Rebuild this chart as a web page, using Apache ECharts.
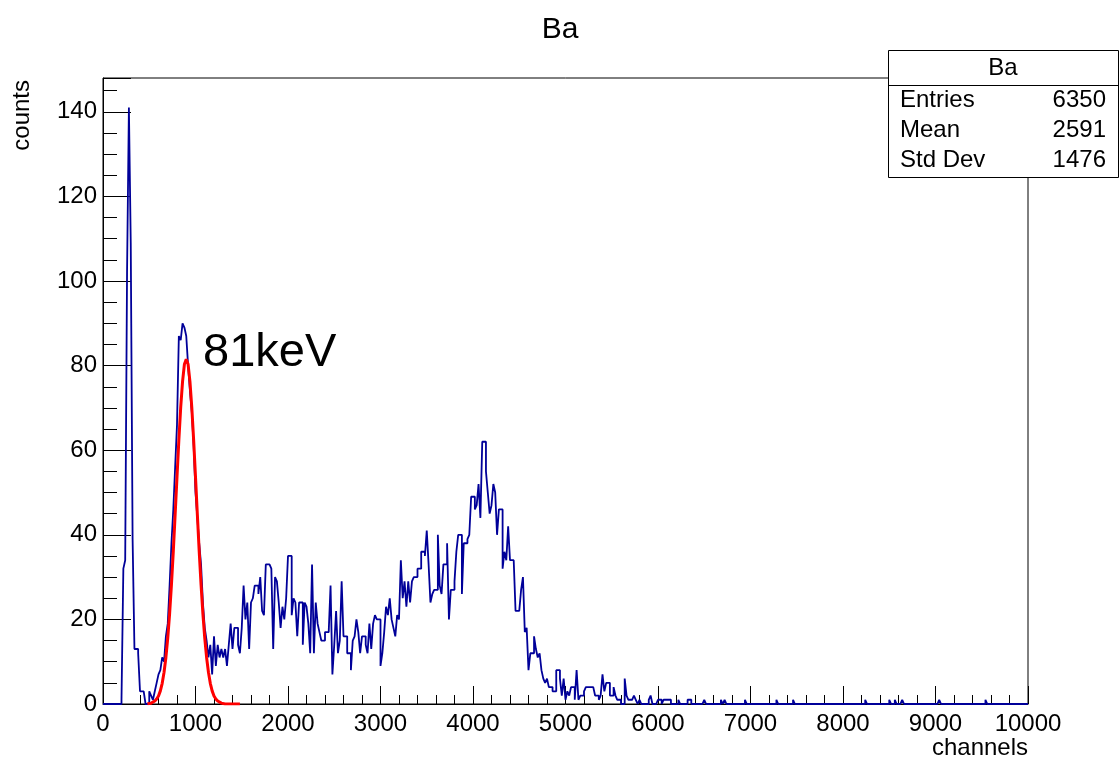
<!DOCTYPE html>
<html>
<head>
<meta charset="utf-8">
<script src="https://cdn.jsdelivr.net/npm/echarts@6/dist/echarts.min.js"></script>
<style>
  html, body { margin: 0; padding: 0; background: #fff; }
  #chart { width: 1120px; height: 762px; }
</style>
</head>
<body>
<div id="chart"></div>
<script>
  // histogram "Ba": 500 bins over channels 0..10000
  const chRange = [0, 10000]
  const counts = [
    0, 0, 0, 0, 0, 0, 0, 0, 0, 0,
    1, 32, 34, 102, 141, 109, 39, 13, 13, 12,
    3, 3, 3, 0, 0, 3, 2, 1, 3, 5,
    7, 8, 11, 10, 16, 19, 28, 38, 46, 56,
    66, 87, 86, 90, 89, 87, 80, 74, 69, 61,
    50, 44, 38, 33, 24, 18, 15, 11, 14, 7,
    16, 9, 14, 11, 13, 11, 13, 9, 14, 19,
    13, 18, 18, 14, 12, 18, 28, 20, 24, 13,
    24, 25, 28, 28, 26, 30, 22, 21, 33, 33,
    33, 32, 13, 30, 29, 24, 18, 23, 20, 25,
    35, 35, 21, 25, 24, 16, 24, 24, 14, 24,
    23, 19, 12, 33, 12, 24, 19, 17, 15, 15,
    17, 17, 17, 28, 7, 14, 22, 12, 15, 29,
    16, 16, 12, 12, 8, 15, 16, 20, 17, 12,
    16, 16, 14, 12, 19, 13, 19, 21, 20, 20,
    9, 12, 17, 23, 21, 25, 20, 18, 16, 21,
    20, 34, 25, 29, 23, 29, 24, 29, 30, 30,
    32, 32, 36, 36, 35, 41, 33, 24, 26, 27,
    27, 40, 28, 26, 33, 33, 38, 20, 27, 27,
    29, 36, 40, 40, 26, 38, 38, 39, 40, 49,
    49, 46, 47, 52, 44, 62, 62, 55, 50, 45,
    47, 52, 50, 40, 46, 46, 32, 36, 34, 42,
    34, 34, 34, 22, 22, 22, 27, 30, 17, 18,
    8, 12, 12, 16, 13, 11, 12, 8, 6, 5,
    6, 4, 4, 3, 3, 8, 8, 6, 2, 6,
    1, 3, 2, 4, 4, 1, 8, 1, 2, 2,
    3, 4, 4, 4, 4, 4, 2, 2, 1, 2,
    7, 3, 5, 5, 2, 2, 4, 2, 1, 1,
    0, 0, 6, 2, 1, 1, 1, 2, 1, 0,
    1, 0, 0, 0, 0, 1, 2, 0, 0, 0,
    1, 1, 0, 1, 1, 1, 1, 0, 0, 0,
    0, 1, 0, 0, 0, 0, 1, 1, 0, 0,
    0, 0, 0, 0, 0, 1, 0, 0, 0, 0,
    0, 0, 0, 0, 1, 0, 1, 0, 0, 0,
    0, 0, 0, 0, 0, 0, 0, 1, 0, 0,
    0, 0, 0, 0, 0, 0, 0, 0, 0, 0,
    0, 0, 0, 0, 1, 0, 0, 0, 0, 0,
    0, 0, 0, 1, 0, 0, 0, 0, 0, 0,
    0, 0, 0, 0, 0, 0, 0, 0, 0, 0,
    0, 0, 0, 0, 0, 0, 0, 0, 0, 0,
    0, 0, 0, 0, 0, 0, 0, 0, 0, 0,
    0, 0, 1, 0, 0, 0, 0, 0, 0, 0,
    0, 0, 0, 0, 0, 1, 0, 0, 1, 0,
    0, 0, 1, 0, 0, 0, 0, 0, 0, 0,
    0, 0, 0, 0, 0, 0, 0, 0, 0, 0,
    0, 0, 1, 0, 0, 0, 0, 0, 0, 0,
    0, 0, 0, 0, 0, 0, 0, 0, 0, 0,
    0, 0, 0, 0, 0, 0, 0, 1, 0, 0,
    0, 0, 0, 0, 0, 0, 0, 0, 0, 0,
    0, 0, 0, 0, 0, 0, 0, 0, 0, 0
  ]

  // gaussian fit of the 81 keV line, sampled every 20 channels from 480
  const fitStart = 480
  const fitStep = 20
  const fitValues = [
    0.05, 0.1, 0.2, 0.4, 0.7, 1.2, 1.9, 3.1, 4.9, 7.5,
    11, 15.6, 21.3, 28.2, 36.1, 44.8, 53.7, 62.4, 70.1, 76.2,
    80.3, 81.5, 80.3, 76.2, 70.1, 62.4, 53.7, 44.8, 36.1, 28.2,
    21.3, 15.6, 11, 7.5, 4.9, 3.1, 1.9, 1.2, 0.7, 0.4,
    0.2, 0.1, 0, 0, 0, 0, 0, 0, 0, 0, 0
  ]

  const statsTitle = 'Ba'
  const statsRows = [['Entries', '6350'], ['Mean', '2591'], ['Std Dev', '1476']]
  const peakLabel = '81keV'

  const font = 'Liberation Sans'
  const binWidth = (chRange[1] - chRange[0]) / counts.length
  const histData = counts.map((v, i) => [chRange[0] + i * binWidth, v])
  histData.push([chRange[1], counts[counts.length - 1]])
  const fitData = fitValues.map((v, i) => [fitStart + i * fitStep, v])

  const statsGraphic = [
    {
      type: 'rect', z: 100,
      shape: { x: 888.5, y: 50.5, width: 230, height: 127 },
      style: { fill: '#fff', stroke: '#000', lineWidth: 1 }
    },
    {
      type: 'line', z: 101,
      shape: { x1: 888.5, y1: 85.5, x2: 1118.5, y2: 85.5 },
      style: { stroke: '#000', lineWidth: 1 }
    },
    {
      type: 'text', z: 101, x: 1003, y: 68,
      style: { text: statsTitle, align: 'center', verticalAlign: 'middle', fontSize: 24, fontFamily: font, fill: '#000' }
    }
  ]
  statsRows.forEach((row, i) => {
    const y = 100 + i * 30
    statsGraphic.push({
      type: 'text', z: 101, x: 900, y,
      style: { text: row[0], align: 'left', verticalAlign: 'middle', fontSize: 24, fontFamily: font, fill: '#000' }
    })
    statsGraphic.push({
      type: 'text', z: 101, x: 1106, y,
      style: { text: row[1], align: 'right', verticalAlign: 'middle', fontSize: 24, fontFamily: font, fill: '#000' }
    })
  })

  const chart = echarts.init(document.getElementById('chart'))
  chart.setOption({
    animation: false,
    backgroundColor: '#fff',
    title: {
      text: 'Ba',
      left: 'center',
      top: 10,
      textStyle: { fontSize: 30, fontWeight: 'normal', fontFamily: font, color: '#000' }
    },
    grid: {
      left: 103, right: 92, top: 78, bottom: 58,
      show: true, borderColor: '#000', borderWidth: 1, backgroundColor: 'transparent'
    },
    xAxis: {
      type: 'value',
      min: chRange[0], max: chRange[1], interval: 1000,
      axisLine: { show: true, lineStyle: { color: '#000', width: 1 } },
      axisTick: { show: true, inside: true, length: 18, lineStyle: { color: '#000' } },
      minorTick: { show: true, splitNumber: 5, length: 9, lineStyle: { color: '#000' } },
      splitLine: { show: false },
      axisLabel: { margin: 8, fontSize: 24, fontFamily: font, color: '#000', formatter: v => String(v) }
    },
    yAxis: {
      type: 'value',
      min: 0, max: 148, interval: 20,
      axisLine: { show: true, lineStyle: { color: '#000', width: 1 } },
      axisTick: { show: true, inside: true, length: 28, lineStyle: { color: '#000' } },
      minorTick: { show: true, splitNumber: 4, length: 14, lineStyle: { color: '#000' } },
      splitLine: { show: false },
      axisLabel: { margin: 6, fontSize: 24, fontFamily: font, color: '#000', showMaxLabel: false, formatter: v => String(v) }
    },
    graphic: [
      {
        type: 'text', x: 1028, y: 748,
        style: { text: 'channels', align: 'right', verticalAlign: 'middle', fontSize: 24, fontFamily: font, fill: '#000' }
      },
      {
        type: 'text', x: 22, y: 80, rotation: Math.PI / 2,
        style: { text: 'counts', align: 'right', verticalAlign: 'middle', fontSize: 24, fontFamily: font, fill: '#000' }
      },
      {
        type: 'text', x: 203, y: 353,
        style: { text: peakLabel, align: 'left', verticalAlign: 'middle', fontSize: 47, fontFamily: font, fill: '#000' }
      }
    ].concat(statsGraphic),
    series: [
      {
        name: 'Ba',
        type: 'line',
        step: 'end',
        data: histData,
        symbol: 'none',
        lineStyle: { color: '#000099', width: 1.8 },
        itemStyle: { color: '#000099' },
        z: 2
      },
      {
        name: 'fit',
        type: 'line',
        data: fitData,
        symbol: 'none',
        lineStyle: { color: '#ff0000', width: 3 },
        itemStyle: { color: '#ff0000' },
        z: 3
      }
    ]
  })
</script>
</body>
</html>
